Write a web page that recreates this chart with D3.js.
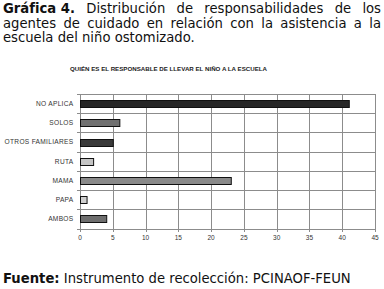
<!DOCTYPE html>
<html lang="es">
  <head>
    <meta charset="UTF-8" />
    <title>Gráfica 4</title>
    <style>
      body {
        margin: 0;
        background: #ffffff;
      }
      svg {
        display: block;
      }
      .head {
        font-family: "DejaVu Sans", Verdana, sans-serif;
        font-size: 13.2px;
        fill: #111;
      }
      .chart-text {
        font-family: "Liberation Sans", Arial, sans-serif;
        fill: #333;
      }
      .grid {
        stroke: #8c8c8c;
        stroke-width: 1;
        shape-rendering: crispEdges;
      }
    </style>
    <script src="https://d3js.org/d3.v7.min.js"></script>
  </head>
  <body>
    <svg id="chart"></svg>
    <script>
      const categories = [
        "NO APLICA",
        "SOLOS",
        "OTROS FAMILIARES",
        "RUTA",
        "MAMA",
        "PAPA",
        "AMBOS",
      ];
      const values = [41, 6, 5, 2, 23, 1, 4];
      const barColors = [
        "#262626",
        "#707070",
        "#3a3a3a",
        "#c4c4c4",
        "#8a8a8a",
        "#cfcfcf",
        "#6e6e6e",
      ];
      const xTicks = [0, 5, 10, 15, 20, 25, 30, 35, 40, 45];

      const width = 384;
      const height = 289;

      const svg = d3.select("#chart").attr("width", width).attr("height", height);

      // header paragraph, justified by hand
      const headLines = [
        [["Gráfica 4.", true], ["Distribución", false], ["de", false], ["responsabilidades", false], ["de", false], ["los", false]],
        [["agentes", false], ["de", false], ["cuidado", false], ["en", false], ["relación", false], ["con", false], ["la", false], ["asistencia", false], ["a", false], ["la", false]],
        [["escuela", false], ["del", false], ["niño", false], ["ostomizado.", false]],
      ];
      const left = 3;
      const right = 381;
      headLines.forEach((words, i) => {
        const y = 13 + i * 14.5;
        const nodes = words.map(([w, bold]) =>
          svg
            .append("text")
            .attr("class", "head")
            .attr("y", y)
            .style("font-weight", bold ? "bold" : "normal")
            .text(w)
        );
        const widths = nodes.map((n) => n.node().getComputedTextLength());
        const total = d3.sum(widths);
        const justify = i < headLines.length - 1;
        const gap = justify ? (right - left - total) / (words.length - 1) : 4.2;
        let x = left;
        nodes.forEach((n, k) => {
          n.attr("x", x);
          x += widths[k] + gap;
        });
      });

      // chart title
      svg
        .append("text")
        .attr("class", "chart-text")
        .attr("x", 70)
        .attr("y", 71)
        .attr("textLength", 197)
        .attr("lengthAdjust", "spacingAndGlyphs")
        .style("font-size", "6px")
        .style("font-weight", "bold")
        .style("fill", "#222")
        .text("QUIÉN ES EL RESPONSABLE DE LLEVAR EL NIÑO A LA ESCUELA");

      const plot = { x0: 80, x1: 375, y0: 94, y1: 228.5 };

      const x = d3.scaleLinear().domain([0, 45]).range([plot.x0, plot.x1]);
      const y = d3
        .scaleBand()
        .domain(categories)
        .range([plot.y0, plot.y1]);

      const g = svg.append("g");

      // vertical gridlines
      g.selectAll("line.v")
        .data(xTicks.slice(1))
        .join("line")
        .attr("class", "grid")
        .attr("x1", (d) => Math.round(x(d)) + 0.5)
        .attr("x2", (d) => Math.round(x(d)) + 0.5)
        .attr("y1", plot.y0)
        .attr("y2", plot.y1);

      // horizontal gridlines at category boundaries
      const bounds = categories.map((c) => y(c)).concat([plot.y1]);
      g.selectAll("line.h")
        .data(bounds.slice(0, -1))
        .join("line")
        .attr("class", "grid")
        .attr("x1", plot.x0 - 3)
        .attr("x2", plot.x1)
        .attr("y1", (d) => Math.round(d) + 0.5)
        .attr("y2", (d) => Math.round(d) + 0.5);

      // axes lines
      g.append("line")
        .attr("class", "grid")
        .attr("x1", plot.x0 + 0.5)
        .attr("x2", plot.x0 + 0.5)
        .attr("y1", plot.y0)
        .attr("y2", plot.y1 + 3);
      g.append("line")
        .attr("class", "grid")
        .attr("x1", plot.x0 - 3)
        .attr("x2", plot.x1)
        .attr("y1", Math.round(plot.y1) + 0.5)
        .attr("y2", Math.round(plot.y1) + 0.5);

      // x ticks
      g.selectAll("line.xt")
        .data(xTicks)
        .join("line")
        .attr("class", "grid")
        .attr("x1", (d) => Math.round(x(d)) + 0.5)
        .attr("x2", (d) => Math.round(x(d)) + 0.5)
        .attr("y1", plot.y1)
        .attr("y2", plot.y1 + 3);

      g.selectAll("text.xl")
        .data(xTicks)
        .join("text")
        .attr("class", "chart-text")
        .attr("x", (d) => x(d))
        .attr("y", 240)
        .attr("text-anchor", "middle")
        .style("font-size", "6.5px")
        .text((d) => d);

      // bars
      const barH = 7;
      g.selectAll("rect.bar")
        .data(values)
        .join("rect")
        .attr("x", x(0) + 0.5)
        .attr("y", (d, i) => Math.round(y(categories[i]) + y.bandwidth() / 2 - barH / 2) + 0.5)
        .attr("width", (d) => x(d) - x(0))
        .attr("height", barH)
        .attr("fill", (d, i) => barColors[i])
        .attr("stroke", "#111")
        .attr("stroke-width", 1);

      // category labels
      g.selectAll("text.yl")
        .data(categories)
        .join("text")
        .attr("class", "chart-text")
        .attr("x", 73.5)
        .attr("y", (d) => y(d) + y.bandwidth() / 2 + 2.4)
        .attr("text-anchor", "end")
        .style("font-size", "6.6px")
        .style("letter-spacing", "0.3px")
        .text((d) => d);

      // source line
      const src = svg
        .append("text")
        .attr("class", "head")
        .attr("x", 3)
        .attr("y", 283);
      src.append("tspan").style("font-weight", "bold").text("Fuente:");
      src.append("tspan").text(" Instrumento de recolección: PCINAOF-FEUN");
    </script>
  </body>
</html>
